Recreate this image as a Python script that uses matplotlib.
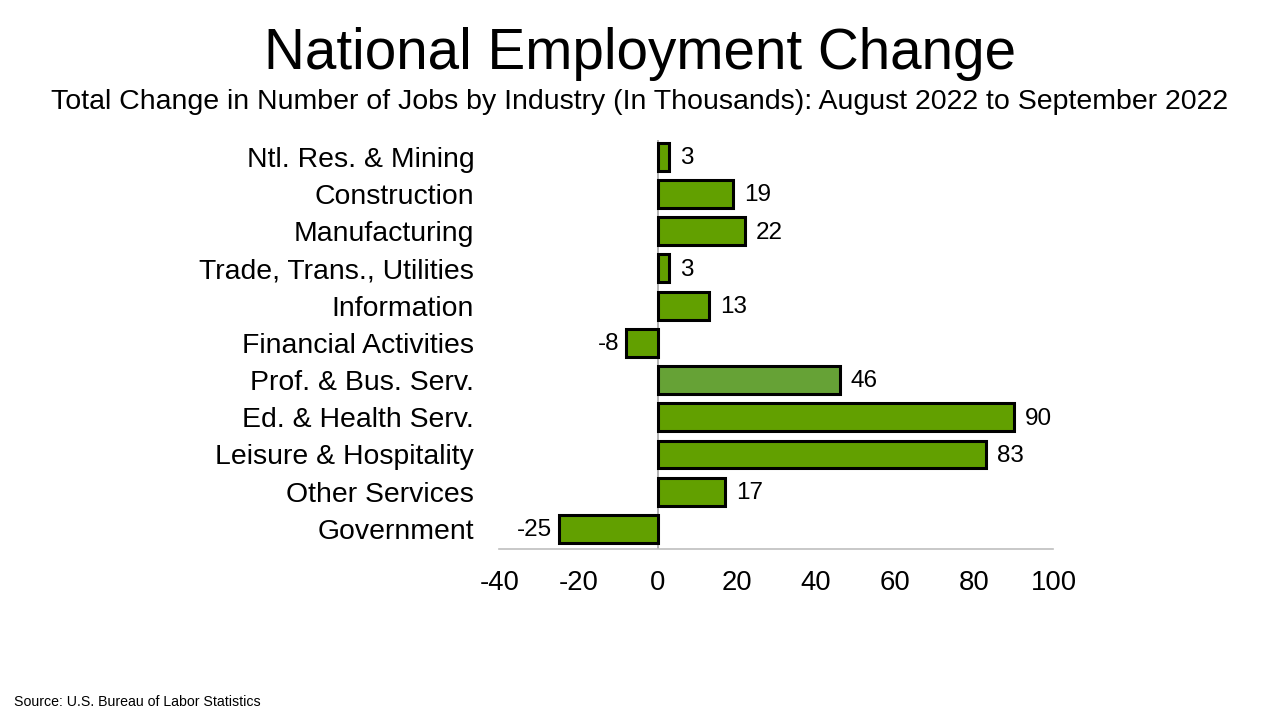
import matplotlib.pyplot as plt

plt.rcParams["font.family"] = ["Liberation Sans", "DejaVu Sans"]

industries = [
    "Ntl. Res. & Mining",
    "Construction",
    "Manufacturing",
    "Trade, Trans., Utilities",
    "Information",
    "Financial Activities",
    "Prof. & Bus. Serv.",
    "Ed. & Health Serv.",
    "Leisure & Hospitality",
    "Other Services",
    "Government",
]
job_change = [3, 19, 22, 3, 13, -8, 46, 90, 83, 17, -25]
x_ticks = [-40, -20, 0, 20, 40, 60, 80, 100]

GREEN = "#62a000"
PROF_GREEN = "#66a236"


def create_plot():
    fig = plt.figure(figsize=(12.8, 7.2), dpi=100)
    ax = fig.add_axes([0.390, 0.2375, 0.433, 0.5685])

    colors = [PROF_GREEN if name.startswith("Prof.") else GREEN for name in industries]
    ypos = list(range(len(industries)))
    ax.barh(ypos, job_change, height=0.75, color=colors,
            edgecolor="black", linewidth=2.2, zorder=3)

    for y, v in zip(ypos, job_change):
        if v >= 0:
            ax.annotate(str(v), (v, y), xytext=(8, -1), textcoords="offset points",
                        ha="left", va="center", fontsize=17.5)
        else:
            ax.annotate(str(v), (v, y), xytext=(-5, -1), textcoords="offset points",
                        ha="right", va="center", fontsize=17.5)

    ax.axvline(0, color="#a6a6a6", linewidth=1.2, zorder=2)

    ax.set_xlim(-40, 100)
    ax.set_ylim(len(industries) - 0.46, -0.46)
    ax.set_xticks(x_ticks)
    ax.set_xticklabels([str(t) for t in x_ticks], fontsize=19.8)
    ax.set_yticks(ypos)
    ax.set_yticklabels(industries, fontsize=20.4)
    ax.tick_params(axis="both", length=0)
    ax.tick_params(axis="y", pad=18)
    ax.tick_params(axis="x", pad=15)

    for side in ["top", "right", "left"]:
        ax.spines[side].set_visible(False)
    ax.spines["bottom"].set_color("#bfbfbf")
    ax.spines["bottom"].set_linewidth(1.2)

    fig.text(0.5, 0.925, "National Employment Change", ha="center", va="center", fontsize=40.8)
    fig.text(0.5, 0.859,
             "Total Change in Number of Jobs by Industry (In Thousands): August 2022 to September 2022",
             ha="center", va="center", fontsize=20.5)
    fig.text(0.011, 0.025, "Source: U.S. Bureau of Labor Statistics", ha="left", va="center", fontsize=10.2)

    fig.savefig("out.png", dpi=100)


if __name__ == "__main__":
    create_plot()
